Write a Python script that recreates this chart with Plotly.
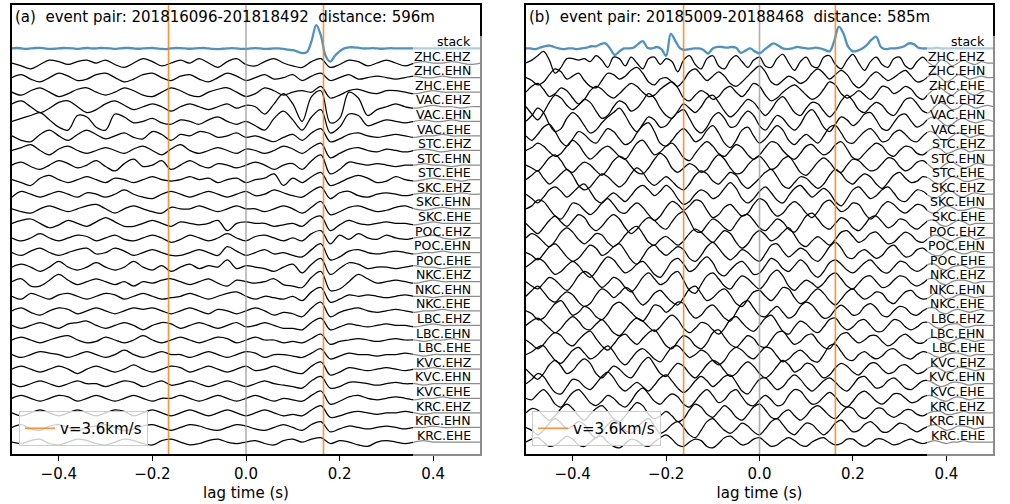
import numpy as np
import plotly.graph_objects as go

# ---------------- data ----------------
channels = ["stack",
            "ZHC.EHZ", "ZHC.EHN", "ZHC.EHE", "VAC.EHZ", "VAC.EHN", "VAC.EHE",
            "STC.EHZ", "STC.EHN", "STC.EHE", "SKC.EHZ", "SKC.EHN", "SKC.EHE",
            "POC.EHZ", "POC.EHN", "POC.EHE", "NKC.EHZ", "NKC.EHN", "NKC.EHE",
            "LBC.EHZ", "LBC.EHN", "LBC.EHE", "KVC.EHZ", "KVC.EHN", "KVC.EHE",
            "KRC.EHZ", "KRC.EHN", "KRC.EHE"]

event_a = "201816096-201818492"
event_b = "20185009-20188468"
distance_a = 596   # m
distance_b = 585   # m
velocity = 3600    # m/s  (v=3.6km/s)

tick_vals = [-0.4, -0.2, 0.0, 0.2, 0.4]
tick_text = ["\u22120.4", "\u22120.2", "0.0", "0.2", "0.4"]

# sample steps (s); all traces start at -0.5 s
step_stack = 0.01
step_a = 0.02
step_b = 0.0125

# amplitudes in tenths of the trace spacing
stack_a = [0, 0.3, 0, -0.3, 0, 0.3, 0.4, 0, -0.3, -0.2,
           0, 0.3, 0.2, 0, -0.3, 0, 0.3, 0, 0, 0.3,
           0.2, 0, -0.3, 0, 0.3, 0.3, 0, -0.2, 0, 0.2,
           0.3, 0, -0.3, -0.4, 0, 0.3, 0.2, 0, -0.2, 0,
           0.2, 0.3, 0, -0.3, -0.4, -0.2, 0, 0.2, 0, -0.3,
           -0.3, 0, 0.2, 0, -0.3, -0.2, 0, 0, -0.3, -0.8,
           -1.2, -2.2, -3.2, -2.5, 5, 16, 9, -5, -9, -5,
           -2, 0, 0.7, 0.8, 0.5, 0, 0, 0.2, 0, -0.2,
           0, 0.2, 0, 0, 0, 0, 0, 0, 0, 0,
           0, 0, 0, 0, 0, 0, 0, 0, 0, 0, 0]

stack_b = [0, 0, -0.5, 0.5, 1.5, 2, 1, 0, -0.5, 0,
           0, -0.5, 0, 0.5, 1.5, 1.5, 3, 3.5, 0, -4.5,
           -2, 0, 0, 0.5, 3, 5, 0.5, 0, 1, -0.5,
           -5, 10, 5, 0, -1, -0.5, 0, 0, -1, -3.5,
           0, 1, 1, 0.5, 1, 0.5, -3, -1.5, 0, -2,
           -3.4, -1, 1.5, 3.5, 2, 0, -0.5, 0, 1, 0.5,
           0, 0, 0.5, 0, -1, -2, 5, 15, 10, 1,
           -2, -1.5, 0, 2.5, 6, 8, 1, -0.5, 0, 0,
           0.5, 1.5, 3.5, 3, 0.5, 0, 0, 0, 0.5, 0,
           0, 0, 0, 0, 0, 0, 0, 0, 0, 0, 0]

traces_a = [
    [0,-2,-4,-1,2,1,-1,1,2,0, 2,-1,-3,0,3,1,-2,0,2,0, 3,0,-3,1,3,-1,-2,1,3,0, -2,-3,1,3,-3,-1,2,1,-2,0, 2,0,-2,0,1,0,0,1,0,-1, 0],
    [0,2,-1,-3,0,3,1,-2,-1,2, 3,0,-3,-1,2,3,0,-2,1,2, -1,-3,0,3,1,-2,0,2,-1,0, 2,-2,1,3,-2,0,2,-1,0,1, 0,-1,0,1,0,0,1,0,0,0, 0],
    [0,-2,1,3,0,-3,-1,2,3,0, -2,0,3,1,-2,-3,0,3,1,-2, -3,0,2,3,0,-3,-1,3,1,-2, 0,1,0,4,-4,-2,1,2,0,-1, 1,1,0,-1,0,1,0,0,0,0, 0],
    [2,4,0,-4,-1,3,4,0,-4,-2, 2,4,1,-2,0,2,0,-3,0,2, 0,-2,0,2,-1,1,0,-5,2,9, 2,-10,7,11,-11,-8,10,6,-6,-2, 0,2,0,-1,0,1,0,0,-1,0, 0],
    [0,2,4,6,1,-4,-6,4,3,-4, -6,5,3,-1,0,2,-1,-2,1,0, -2,1,3,0,-2,0,-3,-6,2,7, 1,-6,3,8,-8,-4,5,4,-3,-1, 1,0,-1,0,1,0,0,1,0,0, 0],
    [0,-3,-4,1,4,0,-3,1,4,1, -2,0,2,-1,-2,3,1,-3,1,0, 3,2,-1,0,2,-1,0,-2,-4,-1, 1,-3,2,5,-4,-2,1,2,0,-1, 0,1,0,-1,0,0,1,0,0,0, 0],
    [0,2,4,0,-3,1,3,0,-2,0, 2,0,-2,1,3,0,-3,1,4,0, -2,0,2,0,-2,1,0,-2,0,3, 1,-2,2,5,-5,-2,1,2,0,-1, 1,0,-1,0,1,0,-1,0,0,0, 0],
    [0,2,-1,-3,0,3,1,-2,0,3, -1,-4,1,4,-1,0,3,-3,0,3, 0,-2,1,0,-2,0,2,0,-3,0, 1,-3,3,7,-6,-3,2,1,0,1, 0,-1,0,0,1,0,0,-1,0,0, 0],
    [0,-2,-4,1,3,0,-2,0,2,0, -2,1,0,-2,0,2,0,-1,0,2, 0,1,-2,0,1,-2,0,1,4,-4, 1,-2,2,5,-4,-2,1,3,1,-2, -1,2,0,-1,0,1,0,0,-1,0, 0],
    [-2,2,0,-2,0,2,0,-2,1,0, -2,0,3,0,-2,-3,0,2,0,-2, 0,2,0,-2,0,2,-1,0,3,1, -1,-2,2,5,-3,1,2,-1,-2,0, 1,0,-1,0,1,0,0,0,1,0, 0],
    [0,-2,-3,0,2,0,-2,0,2,3, 0,-3,0,2,0,-2,-3,1,0,0, 2,0,-2,0,2,0,0,-2,0,2, 0,-3,1,5,-4,-2,1,2,0,-2, -1,1,2,0,-1,0,1,0,0,0, 0],
    [0,2,3,0,-3,-1,2,0,-2,1, 4,1,-2,-2,0,2,0,-2,1,0, -1,0,2,-5,0,1,0,0,-2,-1, 0,-2,3,5,-5,-1,2,0,-1,0, 1,0,0,-1,0,1,0,0,0,0, 0],
    [0,-2,0,3,0,-2,0,2,1,-2, 0,2,-1,-2,0,2,0,-3,-1,2, 0,-2,0,3,0,-2,1,2,0,-2, 0,-2,3,5,-4,2,-1,3,0,-1, 2,0,-1,0,1,2,0,-1,0,0, 0],
    [0,-2,1,3,0,-2,0,2,3,-1, 0,3,1,-2,0,2,0,-2,-2,0, 2,0,-2,4,1,-2,0,2,-1,0, -2,-3,2,6,-5,-3,1,2,0,-1, 0,1,0,-1,0,0,1,0,0,0, 0],
    [0,2,0,-3,0,4,0,-2,0,3, 0,-2,0,4,0,-2,1,-3,0,2, -1,1,0,5,-1,1,0,-1,-3,0, 2,-4,2,6,-5,-1,3,2,-1,0, 0,-1,0,1,0,0,-1,0,0,0, 0],
    [0,2,-3,-3,1,5,1,-2,0,2, 0,-2,0,-3,0,-1,1,2,0,-2, 0,2,-1,-3,1,0,-1,0,2,-2, -3,-4,3,7,-6,-5,0,5,2,-1, 0,1,0,-1,0,1,0,0,0,0, 0],
    [0,-2,2,0,-2,1,2,0,-2,0, 2,1,-2,0,2,0,-2,-1,0,2, 0,-2,0,2,3,0,-2,0,-1,-2, 0,-3,3,6,-4,-2,1,0,1,0, -1,0,1,0,0,-1,0,0,0,0, 0],
    [0,2,-1,-3,0,2,1,-2,0,2, 0,-2,0,2,1,2,0,-2,0,2, 0,-2,1,0,-2,0,2,0,-3,-1, -2,-4,2,6,-4,-1,1,2,0,-1, 0,1,0,-1,0,0,1,0,0,0, 0],
    [0,-2,0,2,0,-2,1,2,3,0, -2,0,2,0,-3,0,2,1,-2,0, 2,0,-2,0,2,-1,0,2,0,-2, -2,-3,2,5,-3,-1,1,0,-1,0, 1,0,0,-1,0,1,0,0,0,0, 0],
    [0,2,0,-2,0,2,3,0,-2,-1, 2,0,-2,0,3,0,-2,0,2,0, -2,0,2,1,-2,0,2,0,0,-2, -1,-2,1,4,-3,-1,0,1,0,-1, 0,1,0,0,-1,0,0,1,0,0, 0],
    [0,-2,0,2,1,0,-2,0,2,0, -2,0,3,0,-2,0,2,0,0,-2, 0,2,0,-2,0,2,1,-2,0,0, -1,-2,1,4,-3,-1,1,0,0,-1, 0,0,1,0,-1,0,0,0,0,0, 0],
    [0,2,0,-2,0,2,0,-3,0,2, 0,-2,0,3,0,-2,0,2,1,-2, 0,2,0,-2,0,2,-1,0,2,0, -2,-3,2,5,-4,-2,1,0,-1,0, 1,0,-1,0,0,1,0,0,0,0, 0],
    [0,-2,0,2,0,-2,0,2,0,0, -2,0,2,1,-2,0,2,-1,0,2, 0,-2,0,2,0,-2,0,2,0,-1, -2,-3,2,5,-3,-2,1,1,0,-1, 0,1,0,0,-1,0,0,0,0,0, 0],
    [0,2,0,-2,0,2,1,-2,0,2, 0,-2,0,2,0,-2,0,0,2,0, -2,0,2,0,-2,0,2,0,-2,0, -1,-2,2,5,-4,-2,1,2,0,-1, 0,1,0,-1,0,0,1,0,0,0, 0],
    [0,-2,0,2,0,-2,0,2,0,-2, 0,2,1,-2,0,2,0,-2,0,2, 0,-2,0,2,0,-2,0,2,0,-2, -1,-2,2,5,-3,-2,0,1,0,-1, 0,0,1,0,-1,0,0,0,0,0, 0],
    [0,2,-1,-2,1,2,0,-2,0,1, 2,0,-2,-1,1,2,0,-2,0,2, 1,-1,-2,0,2,1,-1,-2,0,2, 0,-2,2,4,-3,-1,1,0,-1,0, 1,0,-1,0,0,1,0,0,0,0, 0],
    [0,-1,1,2,-1,-2,0,2,1,-1, -2,0,2,1,-1,-2,1,2,0,-2, -1,1,2,0,-1,0,1,-1,-2,1, 2,0,2,3,-1,1,0,-2,-3,0, 1,0,-1,0,1,0,0,0,0,0, 0],
]

traces_b = [
    [0,2,5,8,2,-7,-3,3,3,2, 3,1,5,2,-3,4,3,-2,4,0, -4,3,4,-1,3,1,-6,2,5,-1, -4,3,5,-2,-4,2,5,1,-3,2, 4,-2,-3,3,6,0,-5,1,4,-2, -3,4,5,-1,-4,2,6,0,-5,1, 4,-1,-3,3,4,-2,-4,1,4,0, -2,2,1,-2,0,2,0,-1,1,0, 0],
    [0,-2,-5,-3,2,6,4,-1,1,3, -2,-6,-7,-2,3,2,-1,1,5,7, 3,-3,-5,-1,0,-3,-6,-2,4,6, 2,-2,1,4,1,-4,-6,-3,1,5, 8,4,-3,-5,-2,1,-1,-4,-2,3, 6,3,-1,2,5,2,-4,-7,-4,1, 4,1,-2,0,3,5,1,-3,-2,1, 3,0,-3,-1,2,1,-1,0,1,0, 0],
    [0,4,6,2,-3,-1,3,1,-4,-8, -5,1,4,2,-2,-4,-1,3,6,4, 0,-3,-2,2,5,7,3,-4,-6,-2, 1,-1,-5,-3,2,4,0,-3,1,6, 4,-2,-6,-4,0,3,5,2,-2,-5, -3,2,7,5,-1,-4,-2,1,-2,-5, -1,4,3,-1,1,4,2,-3,-5,-1, 2,3,0,-2,1,2,-1,-2,0,1, 0],
    [0,-5,-9,-4,3,8,6,1,-2,1, 5,3,-3,-8,-6,0,4,2,-3,-1, 4,9,6,-1,-6,-8,-3,2,-1,-4, 0,6,8,3,-3,-7,-4,1,5,3, -2,-6,-2,4,7,2,-4,-6,-1,3, 2,-3,-7,-3,4,8,4,-2,-4,0, 3,1,-4,-6,-1,5,6,2,-3,-4, 0,3,1,-2,-1,2,1,-1,0,1, 0],
    [0,4,9,6,-2,-7,-5,2,6,3, -3,-8,-6,-1,3,6,9,4,-3,-7, -2,3,1,-4,-3,2,6,8,2,-5, -8,-4,3,6,2,-4,-3,3,7,4, -3,-6,-1,4,2,-3,-6,-2,5,8, 3,-4,-7,-2,3,1,-3,0,5,6, 1,-5,-6,-1,4,5,0,-4,-2,2, 3,0,-3,-2,1,2,0,-1,0,1, 0],
    [0,-3,1,6,8,3,-4,-7,-2,3, 1,-3,-5,0,5,3,-2,-6,-4,2, 7,9,3,-5,-7,-3,2,5,1,-4, -2,4,7,2,-5,-8,-3,4,6,0, -5,-2,3,7,4,-3,-6,-2,1,-2, -5,0,6,7,2,-4,-5,-1,3,5, 1,-4,-3,2,4,1,-3,-4,0,3, 2,-2,-3,0,2,1,-1,0,1,0, 0],
    [0,2,5,3,-1,-4,-2,3,7,4, -2,-6,-3,1,3,0,-4,-6,-1,5, 7,2,-3,-1,3,5,1,-5,-7,-2, 3,6,3,-2,-4,0,4,2,-3,-6, -3,2,6,5,0,-4,-6,-2,3,4, 0,-3,-1,4,6,1,-5,-6,-2,2, 5,3,-2,-4,0,3,2,-2,-3,0, 2,1,-2,-1,1,1,-1,0,0,0, 0],
    [0,-2,-4,0,5,7,3,-3,-5,-1, 2,0,-4,-7,-3,3,6,4,-1,-5, -6,-2,4,8,5,-2,-5,-2,1,-1, -5,-3,3,7,4,-2,-6,-5,0,4, 6,2,-3,-1,4,6,1,-5,-7,-3, 2,5,2,-3,-5,0,4,3,-1,-4, -3,1,5,4,-1,-4,-2,2,3,0, -3,-2,1,2,0,-2,-1,1,1,0, 0],
    [0,3,6,1,-3,0,4,7,3,-4, -7,-5,0,4,2,-2,-5,-2,4,8, 5,-1,-4,-1,2,-1,-5,-7,-3,3, 6,4,-1,-3,1,5,3,-3,-6,-3, 1,5,7,2,-4,-6,-2,2,1,-3, -6,-3,3,7,4,-1,-3,1,4,2, -3,-6,-2,3,5,1,-2,-1,2,1, -2,-3,0,2,1,-1,-1,0,1,0, 0],
    [0,-3,-6,-2,3,5,2,-2,1,5, 7,2,-4,-6,-2,1,-2,-5,-1,4, 6,3,-1,2,6,3,-3,-7,-5,0, 3,1,-3,-1,4,8,4,-3,-6,-3, 2,5,1,-4,-6,-1,4,6,2,-2, 1,4,1,-5,-8,-3,3,5,1,-3, -1,3,5,1,-4,-5,-1,3,2,-1, -3,-1,2,2,-1,-2,0,1,0,0, 0],
    [0,2,6,5,0,-5,-7,-2,4,3, -1,-4,-1,4,7,3,-2,-3,1,4, 1,-4,-8,-5,1,5,3,-1,2,6, 5,-1,-6,-4,1,3,-1,-5,-3,3, 7,5,-1,-5,-3,2,5,2,-3,-6, -2,4,6,2,-2,0,4,3,-3,-7, -4,2,5,3,-1,-3,0,3,2,-2, -3,0,2,1,-1,-1,0,1,0,0, 0],
    [0,-4,-7,-3,2,5,1,-2,2,6, 4,-2,-5,-2,3,6,3,-3,-7,-4, 1,4,2,-2,-4,1,6,8,2,-5, -6,-1,3,1,-3,-5,0,5,6,2, -3,-5,-1,3,1,-4,-6,-1,5,7, 3,-2,-4,0,4,2,-3,-5,-1,4, 5,1,-3,-1,3,2,-2,-4,-1,2, 2,-1,-2,0,2,1,-1,0,0,0, 0],
    [0,3,1,-3,-6,-2,4,7,4,-1, -4,-1,3,2,-3,-6,-3,2,6,8, 3,-3,-5,-1,1,-2,-5,-2,3,6, 4,0,-3,1,5,3,-3,-7,-4,2, 5,2,-2,0,4,7,2,-4,-6,-2, 1,-2,-5,-1,4,5,1,-3,-1,3, 4,0,-4,-3,1,4,2,-2,-3,0, 2,1,-1,-2,0,1,1,-1,0,0, 0],
    [0,-2,-5,-1,4,6,2,-3,-6,-4, 1,5,3,-2,0,4,6,1,-5,-8, -3,3,5,1,-2,1,4,2,-4,-6, -2,4,7,3,-2,-5,-2,2,0,-4, -6,-1,5,6,1,-3,0,3,1,-4, -6,-2,4,7,3,-3,-4,0,2,-1, -4,-2,3,5,1,-3,-2,2,3,0, -2,-2,1,2,0,-1,0,1,0,0, 0],
    [0,3,6,4,-1,-5,-3,1,4,1, -4,-7,-3,3,7,5,0,-4,-2,2, 4,0,-5,-7,-2,4,6,2,-3,-1, 4,7,3,-4,-6,-2,2,4,0,-5, -4,1,6,4,-1,-3,1,5,2,-4, -7,-3,3,5,2,-2,-4,-1,3,5, 1,-3,-4,0,4,3,-1,-3,-1,2, 2,-1,-2,0,1,1,-1,0,0,0, 0],
    [0,-3,-5,-1,3,1,-3,-6,-2,4, 7,5,0,-4,-1,3,1,-4,-7,-3, 3,6,2,-2,0,5,7,1,-6,-8, -2,4,6,2,-3,-5,0,4,2,-2, -5,-1,5,8,4,-3,-6,-2,1,-1, -4,-1,4,6,2,-3,-5,-1,3,4, 0,-4,-3,1,4,3,-1,-3,-1,2, 2,-1,-2,0,1,1,0,-1,0,0, 0],
    [0,4,7,3,-2,-4,0,3,1,-4, -7,-5,1,5,3,-1,2,6,4,-2, -6,-3,2,4,0,-4,-6,-1,5,7, 2,-3,-1,3,5,1,-5,-7,-2,3, 4,0,-3,1,6,5,-1,-5,-3,2, 5,2,-3,-6,-2,3,5,1,-2,0, 3,2,-3,-5,-1,3,4,0,-2,-1, 2,1,-2,-1,1,1,0,-1,0,0, 0],
    [0,-2,-6,-5,0,5,7,2,-3,-1, 3,1,-4,-6,-2,4,6,3,-1,-5, -7,-2,4,3,-1,2,6,5,-1,-5, -3,2,4,0,-5,-7,-1,5,7,2, -3,-4,0,3,-1,-5,-3,3,6,4, -1,-5,-4,1,4,1,-3,-2,3,5, 2,-3,-4,0,3,2,-2,-3,0,2, 2,-1,-2,0,1,0,-1,0,1,0, 0],
    [0,3,5,2,-2,-5,-2,3,6,3, -2,-3,1,4,0,-5,-7,-3,2,5, 3,-1,-4,-1,4,7,4,-2,-5,-2, 2,1,-3,-6,-2,4,6,2,-2,-4, 0,5,7,2,-4,-6,-1,3,1,-3, -5,-1,4,5,0,-3,-1,3,4,0, -4,-4,0,4,3,-1,-3,-1,2,2, -1,-2,0,1,1,-1,-1,0,0,0, 0],
    [0,-3,-6,-3,2,5,3,-2,-4,0, 4,6,1,-4,-7,-3,2,4,0,-3, 1,5,7,2,-4,-6,-1,3,1,-4, -6,-2,5,7,2,-3,-5,-1,3,1, -4,-5,0,5,6,1,-3,-1,3,4, -1,-5,-6,-1,4,5,1,-2,0,3, 3,-1,-4,-2,2,4,1,-2,-2,1, 2,0,-2,-1,1,1,0,-1,0,0, 0],
    [0,2,5,6,1,-4,-6,-2,3,5, 1,-3,-1,3,6,2,-4,-7,-3,2, 4,1,-3,-5,0,5,6,2,-2,0, 3,1,-4,-7,-4,2,5,3,-1,-3, 1,5,4,-1,-5,-3,1,3,0,-4, -5,0,6,7,2,-3,-4,0,2,-1, -3,-1,3,4,1,-2,-3,0,2,1, -1,-2,0,1,1,0,-1,0,0,0, 0],
    [0,-4,-7,-3,3,6,2,-3,-1,4, 7,4,-3,-6,-2,2,0,-4,-6,-1, 5,8,3,-3,-5,0,4,2,-3,-6, -2,3,6,4,-1,-5,-3,2,5,2, -3,-6,-3,2,6,3,-2,0,4,3, -2,-6,-4,1,4,2,-2,-4,0,4, 4,0,-3,-2,2,3,0,-3,-2,1, 2,0,-2,-1,1,1,0,-1,0,0, 0],
    [0,3,7,5,-1,-6,-7,-2,3,2, -2,-4,0,5,8,4,-2,-5,-2,1, -2,-5,-1,4,6,2,-3,-6,-3,2, 5,2,-2,1,5,6,1,-5,-7,-2, 3,4,0,-4,-2,3,6,3,-2,-5, -2,2,4,1,-3,-5,-1,4,5,1, -3,-2,2,4,1,-3,-4,-1,2,2, 0,-2,-1,1,1,0,-1,0,0,0, 0],
    [0,-1,3,6,2,-4,-6,-1,4,6, 2,-3,-5,-2,2,0,-4,-6,-2,4, 7,3,-2,-4,0,3,1,-4,-6,-2, 3,6,2,-3,-1,4,6,1,-4,-5, -1,2,-1,-5,-4,2,6,5,0,-4, -3,1,4,1,-4,-6,-2,3,5,2, -2,-4,-1,3,3,0,-3,-2,1,2, 1,-1,-2,0,1,0,-1,0,0,0, 0],
    [0,3,2,-2,-5,-2,3,6,3,-2, -5,-1,3,5,1,-4,-6,-2,3,7, 5,-1,-4,-2,1,-2,-6,-4,2,6, 4,-1,-3,1,5,2,-3,-5,-1,4, 6,2,-3,-4,0,2,-2,-5,-2,3, 5,2,-2,-4,0,4,3,-2,-4,-1, 3,3,-1,-3,-1,2,2,-1,-2,0, 1,1,-1,-1,0,1,0,0,0,0, 0],
    [0,-2,-5,-2,3,6,3,-1,1,4, 2,-4,-7,-3,2,5,2,-2,-4,0, 4,6,1,-4,-2,2,4,0,-5,-7, -2,4,6,2,-2,-4,-1,3,1,-3, -5,-1,4,6,2,-3,-5,-1,3,2, -2,-5,-2,3,5,1,-3,-2,2,4, 1,-3,-3,0,3,2,-1,-3,-1,1, 2,0,-2,-1,1,1,0,-1,0,0, 0],
    [0,2,3,0,-3,-2,1,4,2,-2, -3,0,3,4,0,-3,-4,-1,2,1, -2,-3,0,3,5,2,-2,-3,0,2, 1,-3,-4,-1,3,4,1,-2,-1,2, 3,0,-3,-2,1,3,1,-2,-3,0, 2,3,0,-2,-1,2,2,-1,-3,-1, 2,2,0,-2,-1,1,2,0,-1,0, 1,0,-1,0,0,1,0,0,0,0, 0],
]

# ---------------- style ----------------
FONT = "DejaVu Sans"
BLACK = "black"
STACK_COLOR = "rgb(76,146,198)"
ORANGE = "rgba(255,127,14,0.85)"
GRAY0 = "rgba(150,150,150,0.75)"
W, H = 1010, 504
M_T, M_B = 5, 50
PLOT_H = H - M_T - M_B
n_tr = len(channels) - 1          # index of bottom trace
Y0, Y1 = -0.82, n_tr + 2.98       # y range (trace spacing = 1)
AMP = 0.1                         # tenth of spacing per unit

def times(n, step):
    return -0.5 + step * np.arange(n)

def py(px):                       # pixel row -> paper y
    return (H - M_B - px) / PLOT_H

panels = [
    dict(xa="x", ya="y", dom=[12 / W, 480 / W], stack=stack_a, tr=traces_a, step=step_a,
         title="(a)\u00a0\u00a0event pair: " + event_a + "\u00a0\u00a0distance: %dm" % distance_a,
         dist=distance_a, legend="legend", box=[413, 483], lab_x=0.484),
    dict(xa="x2", ya="y2", dom=[526 / W, 993 / W], stack=stack_b, tr=traces_b, step=step_b,
         title="(b)\u00a0\u00a0event pair: " + event_b + "\u00a0\u00a0distance: %dm" % distance_b,
         dist=distance_b, legend="legend2", box=[927, 997], lab_x=0.487),
]

fig = go.Figure()
annotations = []
shapes = []

for p in panels:
    fig.add_trace(go.Scatter(
        x=times(len(p["stack"]), step_stack), y=n_tr + AMP * np.array(p["stack"]),
        mode="lines", line=dict(color=STACK_COLOR, width=2.3, shape="spline"),
        xaxis=p["xa"], yaxis=p["ya"], showlegend=False, hoverinfo="skip"))
    for i, v in enumerate(p["tr"]):
        base = n_tr - 1 - i
        fig.add_trace(go.Scatter(
            x=times(len(v), p["step"]), y=base + AMP * np.array(v),
            mode="lines", line=dict(color=BLACK, width=1.25, shape="spline"),
            xaxis=p["xa"], yaxis=p["ya"], showlegend=False, hoverinfo="skip"))
    fig.add_trace(go.Scatter(x=[0, 0], y=[Y0, Y1], mode="lines",
                             line=dict(color=GRAY0, width=1.6),
                             xaxis=p["xa"], yaxis=p["ya"], showlegend=False, hoverinfo="skip"))
    lag = p["dist"] / velocity
    fig.add_trace(go.Scatter(x=[-lag, -lag], y=[Y0, Y1], mode="lines",
                             line=dict(color=ORANGE, width=1.6), name="v=3.6km/s",
                             xaxis=p["xa"], yaxis=p["ya"], showlegend=True,
                             legend=p["legend"], hoverinfo="skip"))
    fig.add_trace(go.Scatter(x=[lag, lag], y=[Y0, Y1], mode="lines",
                             line=dict(color=ORANGE, width=1.6),
                             xaxis=p["xa"], yaxis=p["ya"], showlegend=False, hoverinfo="skip"))
    shapes.append(dict(type="rect", xref="paper", yref="paper",
                       x0=p["box"][0] / W, x1=p["box"][1] / W, y0=py(456), y1=py(36),
                       fillcolor="rgba(255,255,255,0.55)", line=dict(width=0), layer="above"))
    for i, name in enumerate(channels):
        annotations.append(dict(x=p["lab_x"], y=n_tr - i + 0.47, xref=p["xa"], yref=p["ya"],
                                text=name, showarrow=False, xanchor="right", yanchor="middle",
                                font=dict(family=FONT, size=12.5, color=BLACK)))
    annotations.append(dict(x=-0.497, y=Y1 - 0.82, xref=p["xa"], yref=p["ya"], text=p["title"],
                            showarrow=False, xanchor="left", yanchor="middle",
                            font=dict(family=FONT, size=15, color=BLACK)))

axis_common = dict(showgrid=False, zeroline=False, showline=True, mirror=True,
                   linecolor=BLACK, linewidth=1.5)
xcommon = dict(axis_common, range=[-0.5, 0.5], tickmode="array", tickvals=tick_vals,
               ticktext=tick_text, ticks="outside", ticklen=5, tickwidth=1.2, tickcolor=BLACK,
               tickfont=dict(family=FONT, size=15, color=BLACK),
               title=dict(text="lag time (s)", font=dict(family=FONT, size=15, color=BLACK),
                          standoff=6))
ycommon = dict(axis_common, range=[Y0, Y1], showticklabels=False, ticks="")

legend_common = dict(bgcolor="rgba(255,255,255,0.8)", bordercolor="rgb(204,204,204)",
                     borderwidth=1, font=dict(family=FONT, size=15, color=BLACK),
                     xanchor="left", yanchor="bottom", y=py(446))

fig.update_layout(
    width=W, height=H,
    margin=dict(l=0, r=0, t=M_T, b=M_B),
    paper_bgcolor="white", plot_bgcolor="white",
    xaxis=dict(xcommon, domain=panels[0]["dom"], anchor="y"),
    yaxis=dict(ycommon, domain=[0, 1], anchor="x"),
    xaxis2=dict(xcommon, domain=panels[1]["dom"], anchor="y2"),
    yaxis2=dict(ycommon, domain=[0, 1], anchor="x2"),
    legend=dict(legend_common, x=19 / W),
    legend2=dict(legend_common, x=532 / W),
    annotations=annotations,
    shapes=shapes,
    font=dict(family=FONT, color=BLACK),
)

fig.write_html("out.html", config={"displayModeBar": False},
               post_script="document.body.style.margin='0px';")
